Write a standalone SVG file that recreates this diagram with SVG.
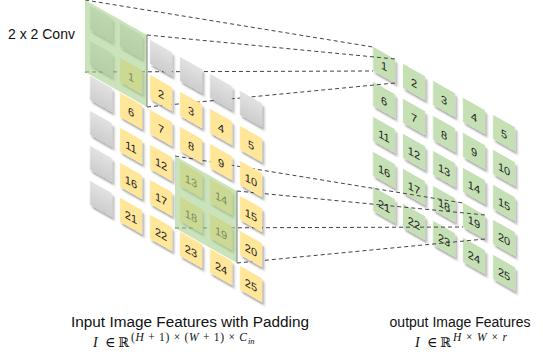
<svg xmlns="http://www.w3.org/2000/svg" width="543" height="362" viewBox="0 0 543 362">
<defs>
<filter id="sh" x="-40%" y="-40%" width="180%" height="180%">
<feDropShadow dx="2" dy="2" stdDeviation="1.2" flood-color="#000" flood-opacity="0.35"/>
</filter>
<linearGradient id="gy" x1="0" y1="0" x2="0" y2="1"><stop offset="0" stop-color="#e2e2e2"/><stop offset="1" stop-color="#cdcdcd"/></linearGradient>
</defs>
<style>
.y{fill:#ffe699;filter:url(#sh)}
.g{fill:#c5e0b4;filter:url(#sh)}
.p{fill:url(#gy);filter:url(#sh)}
.n{font-family:"Liberation Sans",Arial,sans-serif;font-size:11px;text-anchor:middle;fill:#222}
.ov{fill:#a9d18e;fill-opacity:0.6}
.ove{stroke:#7f7f7f;stroke-width:1}
.ln{fill:none;stroke:#444;stroke-width:1;stroke-dasharray:4 3}
.lbl{font-family:"Liberation Sans",Arial,sans-serif;font-size:14px;fill:#111}
.m{font-family:"Liberation Serif","DejaVu Serif",serif;fill:#111}
.bb{font-family:"DejaVu Serif",serif;fill:#111}
</style>

<!-- Output grid -->
<g id="output-grid" transform="translate(384,65) skewY(29.55)">
<g id="out-1"><rect class="g" x="-11" y="-12" width="22" height="24"/><text class="n" x="0" y="5">1</text></g>
<g id="out-2"><rect class="g" x="19" y="-12" width="22" height="24"/><text class="n" x="30" y="5">2</text></g>
<g id="out-3"><rect class="g" x="49" y="-12" width="22" height="24"/><text class="n" x="60" y="5">3</text></g>
<g id="out-4"><rect class="g" x="79" y="-12" width="22" height="24"/><text class="n" x="90" y="5">4</text></g>
<g id="out-5"><rect class="g" x="109" y="-12" width="22" height="24"/><text class="n" x="120" y="5">5</text></g>
<g id="out-6"><rect class="g" x="-11" y="23" width="22" height="24"/><text class="n" x="0" y="40">6</text></g>
<g id="out-7"><rect class="g" x="19" y="23" width="22" height="24"/><text class="n" x="30" y="40">7</text></g>
<g id="out-8"><rect class="g" x="49" y="23" width="22" height="24"/><text class="n" x="60" y="40">8</text></g>
<g id="out-9"><rect class="g" x="79" y="23" width="22" height="24"/><text class="n" x="90" y="40">9</text></g>
<g id="out-10"><rect class="g" x="109" y="23" width="22" height="24"/><text class="n" x="120" y="40">10</text></g>
<g id="out-11"><rect class="g" x="-11" y="58" width="22" height="24"/><text class="n" x="0" y="75">11</text></g>
<g id="out-12"><rect class="g" x="19" y="58" width="22" height="24"/><text class="n" x="30" y="75">12</text></g>
<g id="out-13"><rect class="g" x="49" y="58" width="22" height="24"/><text class="n" x="60" y="75">13</text></g>
<g id="out-14"><rect class="g" x="79" y="58" width="22" height="24"/><text class="n" x="90" y="75">14</text></g>
<g id="out-15"><rect class="g" x="109" y="58" width="22" height="24"/><text class="n" x="120" y="75">15</text></g>
<g id="out-16"><rect class="g" x="-11" y="93" width="22" height="24"/><text class="n" x="0" y="110">16</text></g>
<g id="out-17"><rect class="g" x="19" y="93" width="22" height="24"/><text class="n" x="30" y="110">17</text></g>
<g id="out-18"><rect class="g" x="49" y="93" width="22" height="24"/><text class="n" x="60" y="110">18</text></g>
<g id="out-19"><rect class="g" x="79" y="93" width="22" height="24"/><text class="n" x="90" y="110">19</text></g>
<g id="out-20"><rect class="g" x="109" y="93" width="22" height="24"/><text class="n" x="120" y="110">20</text></g>
<g id="out-21"><rect class="g" x="-11" y="128" width="22" height="24"/><text class="n" x="0" y="145">21</text></g>
<g id="out-22"><rect class="g" x="19" y="128" width="22" height="24"/><text class="n" x="30" y="145">22</text></g>
<g id="out-23"><rect class="g" x="49" y="128" width="22" height="24"/><text class="n" x="60" y="145">23</text></g>
<g id="out-24"><rect class="g" x="79" y="128" width="22" height="24"/><text class="n" x="90" y="145">24</text></g>
<g id="out-25"><rect class="g" x="109" y="128" width="22" height="24"/><text class="n" x="120" y="145">25</text></g>
</g>

<!-- Connectors -->
<g id="connectors">
<line class="ln" x1="85" y1="0" x2="373" y2="47"/>
<line class="ln" x1="147" y1="35" x2="395" y2="59"/>
<line class="ln" x1="85" y1="72" x2="373" y2="71"/>
<line class="ln" x1="147" y1="107" x2="395" y2="83"/>
<line class="ln" x1="175" y1="156" x2="463" y2="203"/>
<line class="ln" x1="237" y1="191" x2="485" y2="215"/>
<line class="ln" x1="175" y1="228" x2="463" y2="227"/>
<line class="ln" x1="237" y1="263" x2="485" y2="239"/>
</g>

<!-- Input grid with padding -->
<g id="input-grid" transform="translate(101,24) skewY(29.55)">
<g id="pad-0-0"><rect class="p" x="-11" y="-12" width="22" height="24"/></g>
<g id="pad-0-1"><rect class="p" x="19" y="-12" width="22" height="24"/></g>
<g id="pad-0-2"><rect class="p" x="49" y="-12" width="22" height="24"/></g>
<g id="pad-0-3"><rect class="p" x="79" y="-12" width="22" height="24"/></g>
<g id="pad-0-4"><rect class="p" x="109" y="-12" width="22" height="24"/></g>
<g id="pad-0-5"><rect class="p" x="139" y="-12" width="22" height="24"/></g>
<g id="pad-1-0"><rect class="p" x="-11" y="23" width="22" height="24"/></g>
<g id="pad-2-0"><rect class="p" x="-11" y="58" width="22" height="24"/></g>
<g id="pad-3-0"><rect class="p" x="-11" y="93" width="22" height="24"/></g>
<g id="pad-4-0"><rect class="p" x="-11" y="128" width="22" height="24"/></g>
<g id="pad-5-0"><rect class="p" x="-11" y="163" width="22" height="24"/></g>

<g id="in-1"><rect class="y" x="19" y="23" width="22" height="24"/><text class="n" x="30" y="40">1</text></g>
<g id="in-2"><rect class="y" x="49" y="23" width="22" height="24"/><text class="n" x="60" y="40">2</text></g>
<g id="in-3"><rect class="y" x="79" y="23" width="22" height="24"/><text class="n" x="90" y="40">3</text></g>
<g id="in-4"><rect class="y" x="109" y="23" width="22" height="24"/><text class="n" x="120" y="40">4</text></g>
<g id="in-5"><rect class="y" x="139" y="23" width="22" height="24"/><text class="n" x="150" y="40">5</text></g>
<g id="in-6"><rect class="y" x="19" y="58" width="22" height="24"/><text class="n" x="30" y="75">6</text></g>
<g id="in-7"><rect class="y" x="49" y="58" width="22" height="24"/><text class="n" x="60" y="75">7</text></g>
<g id="in-8"><rect class="y" x="79" y="58" width="22" height="24"/><text class="n" x="90" y="75">8</text></g>
<g id="in-9"><rect class="y" x="109" y="58" width="22" height="24"/><text class="n" x="120" y="75">9</text></g>
<g id="in-10"><rect class="y" x="139" y="58" width="22" height="24"/><text class="n" x="150" y="75">10</text></g>
<g id="in-11"><rect class="y" x="19" y="93" width="22" height="24"/><text class="n" x="30" y="110">11</text></g>
<g id="in-12"><rect class="y" x="49" y="93" width="22" height="24"/><text class="n" x="60" y="110">12</text></g>
<g id="in-13"><rect class="y" x="79" y="93" width="22" height="24"/><text class="n" x="90" y="110">13</text></g>
<g id="in-14"><rect class="y" x="109" y="93" width="22" height="24"/><text class="n" x="120" y="110">14</text></g>
<g id="in-15"><rect class="y" x="139" y="93" width="22" height="24"/><text class="n" x="150" y="110">15</text></g>
<g id="in-16"><rect class="y" x="19" y="128" width="22" height="24"/><text class="n" x="30" y="145">16</text></g>
<g id="in-17"><rect class="y" x="49" y="128" width="22" height="24"/><text class="n" x="60" y="145">17</text></g>
<g id="in-18"><rect class="y" x="79" y="128" width="22" height="24"/><text class="n" x="90" y="145">18</text></g>
<g id="in-19"><rect class="y" x="109" y="128" width="22" height="24"/><text class="n" x="120" y="145">19</text></g>
<g id="in-20"><rect class="y" x="139" y="128" width="22" height="24"/><text class="n" x="150" y="145">20</text></g>
<g id="in-21"><rect class="y" x="19" y="163" width="22" height="24"/><text class="n" x="30" y="180">21</text></g>
<g id="in-22"><rect class="y" x="49" y="163" width="22" height="24"/><text class="n" x="60" y="180">22</text></g>
<g id="in-23"><rect class="y" x="79" y="163" width="22" height="24"/><text class="n" x="90" y="180">23</text></g>
<g id="in-24"><rect class="y" x="109" y="163" width="22" height="24"/><text class="n" x="120" y="180">24</text></g>
<g id="in-25"><rect class="y" x="139" y="163" width="22" height="24"/><text class="n" x="150" y="180">25</text></g>

<g id="kernel-1"><rect class="ov" x="-16" y="-15" width="62" height="72"/><line class="ove" x1="46" y1="-15" x2="46" y2="57"/></g>
<g id="kernel-2"><rect class="ov" x="74" y="90" width="62" height="72"/><line class="ove" x1="136" y1="90" x2="136" y2="162"/></g>
</g>

<!-- Labels -->
<text class="lbl" x="8" y="39">2 x 2 Conv</text>
<text class="lbl" x="190" y="327" text-anchor="middle" textLength="238" lengthAdjust="spacingAndGlyphs">Input Image Features with Padding</text>
<text class="lbl" x="460" y="327" text-anchor="middle">output Image Features</text>

<text class="m" x="93" y="347" font-size="14" font-style="italic">I</text>
<text class="m" x="105" y="347" font-size="14">∈</text>
<text class="bb" x="118" y="347" font-size="13">ℝ</text>
<text class="m" x="131" y="341" font-size="11.5" textLength="116" lengthAdjust="spacing">(<tspan font-style="italic">H</tspan> + 1) × (<tspan font-style="italic">W</tspan> + 1) × <tspan font-style="italic">C</tspan></text>
<text class="m" x="248" y="344" font-size="8.5" font-style="italic">in</text>

<text class="m" x="415" y="347" font-size="14" font-style="italic">I</text>
<text class="m" x="427" y="347" font-size="14">∈</text>
<text class="bb" x="440" y="347" font-size="13">ℝ</text>
<text class="m" x="453" y="341" font-size="11.5" font-style="italic" textLength="54" lengthAdjust="spacing">H × W × r</text>
</svg>
